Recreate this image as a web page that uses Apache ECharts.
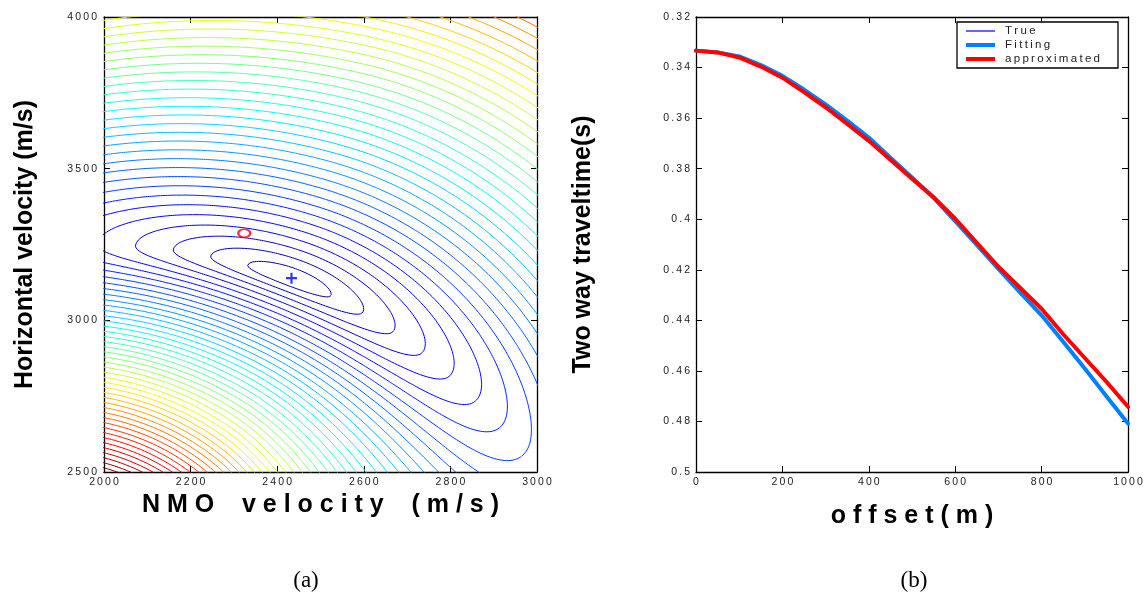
<!DOCTYPE html>
<html>
<head>
<meta charset="utf-8">
<script src="https://cdn.jsdelivr.net/npm/echarts@6/dist/echarts.min.js"></script>
<style>
html,body{margin:0;padding:0;background:#fff;}
#chart{width:1148px;height:600px;}
</style>
</head>
<body>
<div id="chart"></div>
<script>
// ================= DATA =================
// Panel (a): misfit map (NMO velocity vs horizontal velocity)
const vnmoRange = [2000, 3000];
const vhorRange = [2500, 4000];
const trueModel = [2433, 3139];     // blue '+'
const approxModel = [2324, 3287];   // red 'o'
const valleyCentre = [2432, 3136];  // centre of the innermost contour

// contour family (lengths in plotted display units)
const contourLevels = [];
for (let k = 1; k <= 48; k++) contourLevels.push(k);
const levelOffset = 0.2;
const alongStep = { right: 36, left: 38 };                                  // growth along the valley per level
const acrossUp = { base: 9.4, slope: 0.0068, curveRight: 2.6e-5, min: 6 };  // growth across (upper side) per level
const acrossDown = { base: 5.945, slope: 0.0075, curve: 1.2e-5, min: 4.5, max: 16 }; // lower side
const valleyBend = { angleDeg: 20, rightDegPerUnit: 0.12, leftDegPerUnit: 0.1 };
const colourTopLevel = 45;

// Panel (b): two way traveltime vs offset
const offsets      = [0, 50, 100, 150, 200, 250, 300, 350, 400, 450, 500, 550, 600, 650, 700, 750, 800, 850, 900, 950, 1000];
const trueTime     = [0.3333, 0.3340, 0.3356, 0.3390, 0.3433, 0.3487, 0.3546, 0.3610, 0.3677, 0.3757, 0.3835, 0.3915, 0.4008, 0.4102, 0.4197, 0.4289, 0.4380, 0.4485, 0.4591, 0.4700, 0.4808];
const fittingTime  = [0.3333, 0.3340, 0.3356, 0.3390, 0.3433, 0.3487, 0.3546, 0.3610, 0.3677, 0.3757, 0.3835, 0.3915, 0.4008, 0.4102, 0.4197, 0.4289, 0.4380, 0.4485, 0.4591, 0.4700, 0.4808];
const approxTime   = [0.3333, 0.3340, 0.3360, 0.3396, 0.3440, 0.3497, 0.3557, 0.3623, 0.3690, 0.3765, 0.3840, 0.3913, 0.3998, 0.4093, 0.4188, 0.4271, 0.4354, 0.4455, 0.4549, 0.4643, 0.4742];
const seriesNames  = ['True', 'Fitting', 'approximated'];
const seriesColours = ['#0000ff', '#0080ff', '#ff0000'];
const seriesWidths = [1.2, 4, 4];

// ================= HELPERS =================
const FONT = "'Liberation Sans', Arial, sans-serif";
const THIN = '\u2009';
const spread = s => s.split('').join(THIN);
const wide = s => s.split(' ').map(w => w.split('').join(' ')).join('    ');

// display aspect (units per m/s) so the contour shapes keep their look
const SX = 433 / (vnmoRange[1] - vnmoRange[0]);
const SY = 455 / (vhorRange[1] - vhorRange[0]);

function jet(x) {
  x = Math.max(0, Math.min(1, x));
  const c = v => Math.round(255 * Math.max(0, Math.min(1, v)));
  return 'rgb(' + c(1.5 - Math.abs(4 * x - 3)) + ',' + c(1.5 - Math.abs(4 * x - 2)) + ',' + c(1.5 - Math.abs(4 * x - 1)) + ')';
}
const clamp = (v, lo, hi) => Math.max(lo, Math.min(hi, v));

function valleyPoint(u) {
  const phi0 = valleyBend.angleDeg * Math.PI / 180;
  const k = (u >= 0 ? valleyBend.rightDegPerUnit : valleyBend.leftDegPerUnit) * Math.PI / 180;
  const phi = phi0 + k * u;
  return {
    x: (Math.sin(phi) - Math.sin(phi0)) / k,
    y: (Math.cos(phi0) - Math.cos(phi)) / k,
    phi: phi
  };
}
function upperStep(u) {
  const b = acrossUp.base + acrossUp.slope * u - (u > 0 ? acrossUp.curveRight * u * u : 0);
  return Math.max(acrossUp.min, b);
}
function lowerStep(u) {
  return clamp(acrossDown.base + acrossDown.slope * u + acrossDown.curve * u * u, acrossDown.min, acrossDown.max);
}

function contourLine(level) {
  const r = level + levelOffset;
  const n = 1440;
  const pts = [];
  for (let i = 0; i <= n; i++) {
    const t = 2 * Math.PI * i / n;
    const c = Math.cos(t), s = Math.sin(t);
    const u = r * c * (c >= 0 ? alongStep.right : alongStep.left);
    const v = r * s * (s >= 0 ? lowerStep(u) : upperStep(u));
    const p = valleyPoint(u);
    const X = p.x - v * Math.sin(p.phi);
    const Y = p.y + v * Math.cos(p.phi);
    pts.push([valleyCentre[0] + X / SX, valleyCentre[1] - Y / SY]);
  }
  return pts;
}

// ================= OPTION =================
const axisFrame = {
  axisLine: { show: true, onZero: false, lineStyle: { color: '#000', width: 1.3 } },
  axisTick: { show: true, inside: true, length: 6, lineStyle: { color: '#000', width: 1 } },
  splitLine: { show: false }
};
const tickText = { color: '#222', fontSize: 10.5, fontFamily: FONT };
const titleText = { color: '#000', fontSize: 25, fontWeight: 'bold', fontFamily: FONT };

const series = [];
contourLevels.forEach(level => {
  series.push({
    type: 'line', xAxisIndex: 0, yAxisIndex: 0,
    data: contourLine(level),
    showSymbol: false, symbol: 'none', silent: true, clip: true,
    lineStyle: { color: jet(level / colourTopLevel), width: 1 },
    z: 2
  });
});
series.push({
  type: 'scatter', xAxisIndex: 0, yAxisIndex: 0, z: 5, silent: true,
  data: [trueModel],
  symbol: 'path://M4,0H6V4H10V6H6V10H4V6H0V4H4Z', symbolSize: 11,
  itemStyle: { color: '#0000ff' }
});
series.push({
  type: 'scatter', xAxisIndex: 0, yAxisIndex: 0, z: 5, silent: true,
  data: [approxModel],
  symbol: 'circle', symbolSize: [12, 8],
  itemStyle: { color: 'rgba(0,0,0,0)', borderColor: '#ff0000', borderWidth: 2 }
});

const pair = arr => offsets.map((o, i) => [o, arr[i]]);
[trueTime, fittingTime, approxTime].forEach((arr, i) => {
  series.push({
    name: seriesNames[i], type: 'line', xAxisIndex: 2, yAxisIndex: 2,
    data: pair(arr), showSymbol: false, symbol: 'none',
    itemStyle: { color: seriesColours[i] },
    lineStyle: { color: seriesColours[i], width: seriesWidths[i], join: 'round', cap: 'round' },
    z: 3 + i
  });
});

// legend icons: a horizontal stroke of the series' width inside a 29x12 box
const legendIcon = w => 'path://M0,0M0,' + (6 - w / 2) + 'H29V' + (6 + w / 2) + 'H0ZM29,12';

const option = {
  animation: false,
  backgroundColor: '#ffffff',
  grid: [
    { left: 104, top: 17, width: 433, height: 455 },
    { left: 696, top: 17, width: 432, height: 455 }
  ],
  xAxis: [
    Object.assign({}, axisFrame, {
      type: 'value', gridIndex: 0, position: 'bottom',
      min: vnmoRange[0], max: vnmoRange[1], interval: 200,
      name: wide('NMO velocity (m/s)'), nameLocation: 'middle', nameGap: 19,
      nameTextStyle: titleText,
      axisLabel: Object.assign({ margin: 5, formatter: v => spread(String(v)) }, tickText)
    }),
    Object.assign({}, axisFrame, {
      type: 'value', gridIndex: 0, position: 'top',
      min: vnmoRange[0], max: vnmoRange[1], interval: 200,
      axisLabel: { show: false }
    }),
    Object.assign({}, axisFrame, {
      type: 'value', gridIndex: 1, position: 'bottom',
      min: 0, max: 1000, interval: 200,
      name: wide('offset(m)'), nameLocation: 'middle', nameGap: 32,
      nameTextStyle: titleText,
      axisLabel: Object.assign({ margin: 5, formatter: v => spread(String(v)) }, tickText)
    }),
    Object.assign({}, axisFrame, {
      type: 'value', gridIndex: 1, position: 'top',
      min: 0, max: 1000, interval: 200,
      axisLabel: { show: false }
    })
  ],
  yAxis: [
    Object.assign({}, axisFrame, {
      type: 'value', gridIndex: 0, position: 'left',
      min: vhorRange[0], max: vhorRange[1], interval: 500,
      name: 'Horizontal velocity (m/s)', nameLocation: 'middle', nameGap: 66,
      nameTextStyle: titleText,
      axisLabel: Object.assign({ margin: 7, formatter: v => spread(String(v)) }, tickText)
    }),
    Object.assign({}, axisFrame, {
      type: 'value', gridIndex: 0, position: 'right',
      min: vhorRange[0], max: vhorRange[1], interval: 500,
      axisLabel: { show: false }
    }),
    Object.assign({}, axisFrame, {
      type: 'value', gridIndex: 1, position: 'left', inverse: true,
      min: 0.32, max: 0.5, interval: 0.02,
      name: 'Two way traveltime(s)', nameLocation: 'middle', nameGap: 100,
      nameTextStyle: titleText,
      axisLabel: Object.assign({ margin: 6, formatter: v => spread(String(parseFloat(v.toFixed(2)))) }, tickText)
    }),
    Object.assign({}, axisFrame, {
      type: 'value', gridIndex: 1, position: 'right', inverse: true,
      min: 0.32, max: 0.5, interval: 0.02,
      axisLabel: { show: false }
    })
  ],
  legend: {
    data: seriesNames.map((n, i) => ({ name: n, icon: legendIcon(seriesWidths[i]), itemStyle: { color: seriesColours[i] } })),
    orient: 'vertical',
    left: 957, top: 22,
    padding: [3, 18, 3, 9],
    itemGap: 2, itemWidth: 29, itemHeight: 12,
    borderColor: '#000', borderWidth: 1.3, backgroundColor: '#fff',
    formatter: name => spread(name),
    textStyle: { color: '#222', fontSize: 11.5, fontFamily: FONT, padding: [0, 0, 0, 5] }
  },
  graphic: [
    { type: 'text', x: 306, y: 581, style: { text: '(a)', font: "23px 'Liberation Serif', 'Times New Roman', serif", fill: '#000', align: 'center', verticalAlign: 'middle' } },
    { type: 'text', x: 914, y: 581, style: { text: '(b)', font: "23px 'Liberation Serif', 'Times New Roman', serif", fill: '#000', align: 'center', verticalAlign: 'middle' } }
  ],
  series: series
};

const chart = echarts.init(document.getElementById('chart'), null, { renderer: 'canvas' });
chart.setOption(option);
</script>
</body>
</html>
